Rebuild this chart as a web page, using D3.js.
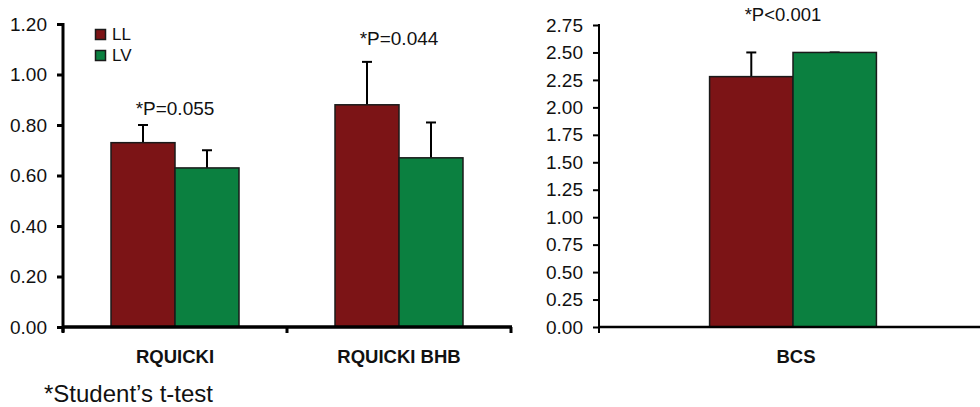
<!DOCTYPE html>
<html>
<head>
<meta charset="utf-8">
<script src="https://cdn.jsdelivr.net/npm/d3@7"></script>
<style>
  body { margin: 0; background: #fff; }
  svg { font-family: Arial, "Liberation Sans", sans-serif; }
</style>
</head>
<body>
<svg width="980" height="407"></svg>
<script>
// values
var groups = ["LL", "LV"];
var leftCats = ["RQUICKI", "RQUICKI BHB"];
var leftMeans = { "RQUICKI": [0.73, 0.63], "RQUICKI BHB": [0.88, 0.67] };
var leftErrs = { "RQUICKI": [0.07, 0.07], "RQUICKI BHB": [0.17, 0.14] };
var leftP = ["*P=0.055", "*P=0.044"];
var leftTicks = [0, 0.2, 0.4, 0.6, 0.8, 1.0, 1.2];

var rightCats = ["BCS"];
var rightMeans = { "BCS": [2.28, 2.50] };
var rightErrs = { "BCS": [0.22, 0.0] };
var rightP = ["*P<0.001"];
var rightTicks = [0, 0.25, 0.5, 0.75, 1.0, 1.25, 1.5, 1.75, 2.0, 2.25, 2.5, 2.75];

var colors = { "LL": "#7c1416", "LV": "#0b8040" };

var svg = d3.select("svg");

function drawPanel(opt) {
  var g = svg.append("g");
  var x0 = d3.scaleBand()
    .domain(opt.cats)
    .range(opt.xr)
    .paddingInner(opt.pad)
    .paddingOuter(opt.pad / 2);
  var x1 = d3.scaleBand()
    .domain(groups)
    .range([0, x0.bandwidth()]);
  var y = d3.scaleLinear()
    .domain(opt.yd)
    .range([327, opt.ytop]);

  // bars
  opt.cats.forEach(function(c, ci) {
    var cg = g.append("g").attr("transform", "translate(" + x0(c) + ",0)");
    groups.forEach(function(s, si) {
      var v = opt.means[c][si], e = opt.errs[c][si];
      var cx = x1(s) + x1.bandwidth() / 2;
      // error bar (drawn first, bar covers its lower part)
      cg.append("line")
        .attr("x1", cx).attr("x2", cx)
        .attr("y1", y(v)).attr("y2", y(v + e))
        .attr("stroke", "#000").attr("stroke-width", 2);
      cg.append("line")
        .attr("x1", cx - 5).attr("x2", cx + 5)
        .attr("y1", y(v + e)).attr("y2", y(v + e))
        .attr("stroke", "#000").attr("stroke-width", 2);
      cg.append("rect")
        .attr("x", x1(s))
        .attr("y", y(v))
        .attr("width", x1.bandwidth())
        .attr("height", y(0) - y(v))
        .attr("fill", colors[s])
        .attr("stroke", "#1a1a1a")
        .attr("stroke-width", 1.5);
    });
    g.append("text")
      .attr("x", x0(c) + x0.bandwidth() / 2 + opt.pdx)
      .attr("y", opt.py[ci])
      .attr("text-anchor", "middle")
      .attr("font-size", opt.pfs + "px")
      .attr("fill", "#111")
      .text(opt.pvals[ci]);
    g.append("text")
      .attr("x", x0(c) + x0.bandwidth() / 2 + opt.cdx)
      .attr("y", 363)
      .attr("text-anchor", "middle")
      .attr("font-size", "18.5px")
      .attr("font-weight", "bold")
      .attr("fill", "#111")
      .text(c);
  });

  // y axis
  var yAxis = d3.axisLeft(y)
    .tickValues(opt.ticks)
    .tickFormat(d3.format(".2f"))
    .tickSize(6)
    .tickPadding(opt.tpad);
  var ya = g.append("g")
    .attr("transform", "translate(" + opt.xr[0] + ",0)")
    .call(yAxis);
  ya.select(".domain").remove();
  ya.selectAll(".tick line").attr("stroke", "#000").attr("stroke-width", opt.sw);
  ya.selectAll(".tick text").attr("font-size", "19px").attr("fill", "#111")
    .attr("font-family", "Arial, 'Liberation Sans', sans-serif");
  g.append("line")
    .attr("x1", opt.xr[0]).attr("x2", opt.xr[0])
    .attr("y1", y(opt.yd[1]) - 1).attr("y2", 332)
    .attr("stroke", "#000").attr("stroke-width", opt.sw);

  // x axis
  g.append("line")
    .attr("x1", opt.xr[0]).attr("x2", opt.xend)
    .attr("y1", 327).attr("y2", 327)
    .attr("stroke", "#000").attr("stroke-width", opt.sw + 0.5);
  opt.xticks.forEach(function(t) {
    g.append("line")
      .attr("x1", t).attr("x2", t)
      .attr("y1", 327).attr("y2", 333)
      .attr("stroke", "#000").attr("stroke-width", opt.sw);
  });
  return x0;
}

var xl = d3.scaleBand().domain(leftCats).range([63, 511]);
drawPanel({
  cats: leftCats, means: leftMeans, errs: leftErrs, pvals: leftP,
  xr: [63, 511], xend: 512, pad: 0.4286, yd: [0, 1.2], ytop: 24,
  ticks: leftTicks, tpad: 10, sw: 3, py: [115, 45], pfs: 19, pdx: 0, cdx: 0,
  xticks: [63, xl("RQUICKI BHB"), 511]
});
drawPanel({
  cats: rightCats, means: rightMeans, errs: rightErrs, pvals: rightP,
  xr: [599, 987], xend: 980, pad: 0.57, yd: [0, 2.75], ytop: 25,
  ticks: rightTicks, tpad: 10, sw: 2, py: [21], pfs: 18.5, pdx: -10, cdx: 3,
  xticks: [599]
});

// legend
var legend = svg.append("g").attr("transform", "translate(95,29)");
groups.forEach(function(s, i) {
  legend.append("rect")
    .attr("x", 0.5).attr("y", i * 21 + 0.5)
    .attr("width", 10).attr("height", 10)
    .attr("fill", colors[s])
    .attr("stroke", "#1a1a1a").attr("stroke-width", 1.5);
  legend.append("text")
    .attr("x", 17).attr("y", i * 21 + 11)
    .attr("font-size", "17px").attr("fill", "#111")
    .text(s);
});

svg.append("text")
  .attr("x", 44).attr("y", 402)
  .attr("font-size", "24px").attr("fill", "#111")
  .text("*Student\u2019s t-test");
</script>
</body>
</html>
